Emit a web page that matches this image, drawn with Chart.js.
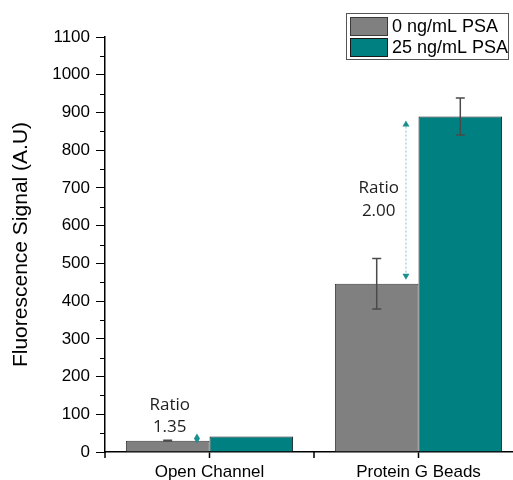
<!DOCTYPE html>
<html>
<head>
<meta charset="utf-8">
<script src="https://cdn.jsdelivr.net/npm/chart.js@4"></script>
<style>
body { margin: 0; overflow: hidden; background: #fff; }
#wrap { width: 523px; height: 480px; }
</style>
</head>
<body>
<div id="wrap"><canvas id="chart"></canvas></div>
<script>
var categories = ['Open Channel', 'Protein G Beads'];
var seriesNames = ['0 ng/mL PSA', '25 ng/mL PSA'];
var psa0 = [30, 446];
var psa0Err = [1, 67];
var psa25 = [41, 889];
var psa25Err = [0, 49];
var ratioLabels = ['1.35', '2.00'];
var yTicks = [0, 100, 200, 300, 400, 500, 600, 700, 800, 900, 1000, 1100];

var AXIS_FONT = 'Arial, "Liberation Sans", sans-serif';

// error bars on top of each bar
var errorBars = {
	id: 'errorBars',
	afterDatasetsDraw: function(chart) {
		var ctx = chart.ctx;
		var y = chart.scales.y;
		chart.data.datasets.forEach(function(ds, i) {
			var meta = chart.getDatasetMeta(i);
			meta.data.forEach(function(bar, j) {
				var v = ds.data[j], e = ds.errors[j];
				if (!e) return;
				var top = y.getPixelForValue(v + e), bot = y.getPixelForValue(v - e);
				ctx.save();
				ctx.strokeStyle = '#4a4a4a';
				ctx.lineWidth = 1.5;
				ctx.beginPath();
				ctx.moveTo(bar.x, top); ctx.lineTo(bar.x, bot);
				ctx.moveTo(bar.x - 4.5, top); ctx.lineTo(bar.x + 4.5, top);
				ctx.moveTo(bar.x - 4.5, bot); ctx.lineTo(bar.x + 4.5, bot);
				ctx.stroke();
				ctx.restore();
			});
		});
	}
};

// minor ticks on both axes
var minorTicks = {
	id: 'minorTicks',
	afterDraw: function(chart) {
		var ctx = chart.ctx;
		var x = chart.scales.x, y = chart.scales.y;
		ctx.save();
		ctx.strokeStyle = '#000';
		ctx.lineWidth = 1;
		ctx.beginPath();
		for (var k = 0; k < yTicks.length - 1; k++) {
			var py = Math.round(y.getPixelForValue((yTicks[k] + yTicks[k + 1]) / 2)) + 0.5;
			ctx.moveTo(x.left - 5, py); ctx.lineTo(x.left, py);
		}
		ctx.stroke();
		// category boundary ticks
		ctx.lineWidth = 1.5;
		ctx.beginPath();
		var half = (x.getPixelForValue(1) - x.getPixelForValue(0)) / 2;
		for (var i = 0; i <= categories.length; i++) {
			var px = x.getPixelForValue(i) - half;
			ctx.moveTo(px, x.top); ctx.lineTo(px, x.top + 6);
		}
		ctx.stroke();
		ctx.restore();
	}
};

// ratio arrows and labels
var ratioNotes = {
	id: 'ratioNotes',
	afterDatasetsDraw: function(chart) {
		var ctx = chart.ctx;
		var lo = chart.getDatasetMeta(0).data, hi = chart.getDatasetMeta(1).data;
		ratioLabels.forEach(function(r, i) {
			var bar = lo[i];
			var yLo = bar.y, yHi = hi[i].y;
			var ax = bar.x + bar.width * 0.35;
			var head = 6, hw = 3.5;
			var tipUp, tipDown, baseUp, baseDown;
			if (yLo - yHi > 4 * head) {
				tipUp = yHi + 4; tipDown = yLo - 4;
			} else {
				var mid = (yLo + yHi) / 2;
				tipUp = mid - 5; tipDown = mid + 5; head = 5; hw = 3;
			}
			baseUp = tipUp + head; baseDown = tipDown - head;
			ctx.save();
			ctx.fillStyle = '#1a9090';
			if (baseDown > baseUp) {
				ctx.strokeStyle = '#7cc4c4';
				ctx.lineWidth = 1;
				ctx.setLineDash([2, 2]);
				ctx.beginPath();
				ctx.moveTo(ax, baseUp); ctx.lineTo(ax, baseDown);
				ctx.stroke();
				ctx.setLineDash([]);
			}
			ctx.beginPath();
			ctx.moveTo(ax, tipUp); ctx.lineTo(ax - hw, baseUp); ctx.lineTo(ax + hw, baseUp); ctx.closePath();
			ctx.moveTo(ax, tipDown); ctx.lineTo(ax - hw, baseDown); ctx.lineTo(ax + hw, baseDown); ctx.closePath();
			ctx.fill();

			var l1, l2;
			if (yLo - yHi > 60) {
				var m = (yLo + yHi) / 2;
				l1 = m - 12; l2 = m + 11;
			} else {
				l1 = yHi - 31; l2 = yHi - 9;
			}
			ctx.fillStyle = '#1e1e1e';
			ctx.font = '17px "Open Sans", Lato, sans-serif';
			ctx.textAlign = 'center';
			ctx.textBaseline = 'middle';
			ctx.fillText('Ratio', bar.x + 2, l1);
			ctx.fillText(r, bar.x + 2, l2);
			ctx.restore();
		});
	}
};

// boxed legend in the top right corner
var boxLegend = {
	id: 'boxLegend',
	afterDraw: function(chart) {
		var ctx = chart.ctx;
		var w = 162, h = 46;
		var left = chart.chartArea.right - 15 - w, top = 13;
		ctx.save();
		ctx.fillStyle = '#fff';
		ctx.fillRect(left, top, w, h);
		ctx.strokeStyle = '#555';
		ctx.lineWidth = 1;
		ctx.strokeRect(left + 0.5, top + 0.5, w, h);
		ctx.font = '18px ' + AXIS_FONT;
		ctx.textBaseline = 'middle';
		chart.data.datasets.forEach(function(ds, i) {
			var sy = top + 4 + i * 21;
			ctx.fillStyle = ds.backgroundColor;
			ctx.fillRect(left + 4, sy, 38, 18);
			ctx.strokeStyle = ds.borderColor;
			ctx.strokeRect(left + 4.5, sy + 0.5, 37, 18);
			ctx.fillStyle = '#000';
			ctx.fillText(ds.label, left + 46, sy + 10);
		});
		ctx.restore();
	}
};

new Chart(document.getElementById('chart'), {
	type: 'bar',
	data: {
		labels: categories,
		datasets: [{
			label: seriesNames[0],
			data: psa0,
			errors: psa0Err,
			backgroundColor: '#808080',
			borderColor: '#3a3a3a',
			borderWidth: 1,
			categoryPercentage: 0.8,
			barPercentage: 1.0
		}, {
			label: seriesNames[1],
			data: psa25,
			errors: psa25Err,
			backgroundColor: '#008080',
			borderColor: '#1a1a1a',
			borderWidth: 1,
			categoryPercentage: 0.8,
			barPercentage: 1.0
		}]
	},
	options: {
		responsive: true,
		maintainAspectRatio: false,
		animation: false,
		layout: { padding: { top: 37, left: 0, right: 0, bottom: 0 } },
		plugins: {
			legend: { display: false },
			tooltip: { enabled: false }
		},
		scales: {
			x: {
				afterFit: function(scale) { scale.height = 28; },
				grid: { drawOnChartArea: false, offset: false, tickLength: 6, tickColor: '#000', tickWidth: 1.5 },
				border: { color: '#000', width: 1.5 },
				ticks: { color: '#000', padding: 4, font: { family: AXIS_FONT, size: 17 } }
			},
			y: {
				min: 0,
				max: 1100,
				afterFit: function(scale) { scale.width = 105; },
				afterBuildTicks: function(scale) {
					scale.ticks = yTicks.map(function(v) { return { value: v }; });
				},
				grid: { drawOnChartArea: false, tickLength: 9, tickColor: '#000', tickWidth: 1 },
				border: { color: '#000', width: 1.5 },
				ticks: {
					color: '#000',
					padding: 6,
					font: { family: AXIS_FONT, size: 17 },
					callback: function(v) { return String(v); }
				},
				title: {
					display: true,
					text: 'Fluorescence Signal (A.U)',
					color: '#000',
					padding: { top: 9, bottom: 0 },
					font: { family: AXIS_FONT, size: 21 }
				}
			}
		}
	},
	plugins: [errorBars, minorTicks, ratioNotes, boxLegend]
});
</script>
</body>
</html>
